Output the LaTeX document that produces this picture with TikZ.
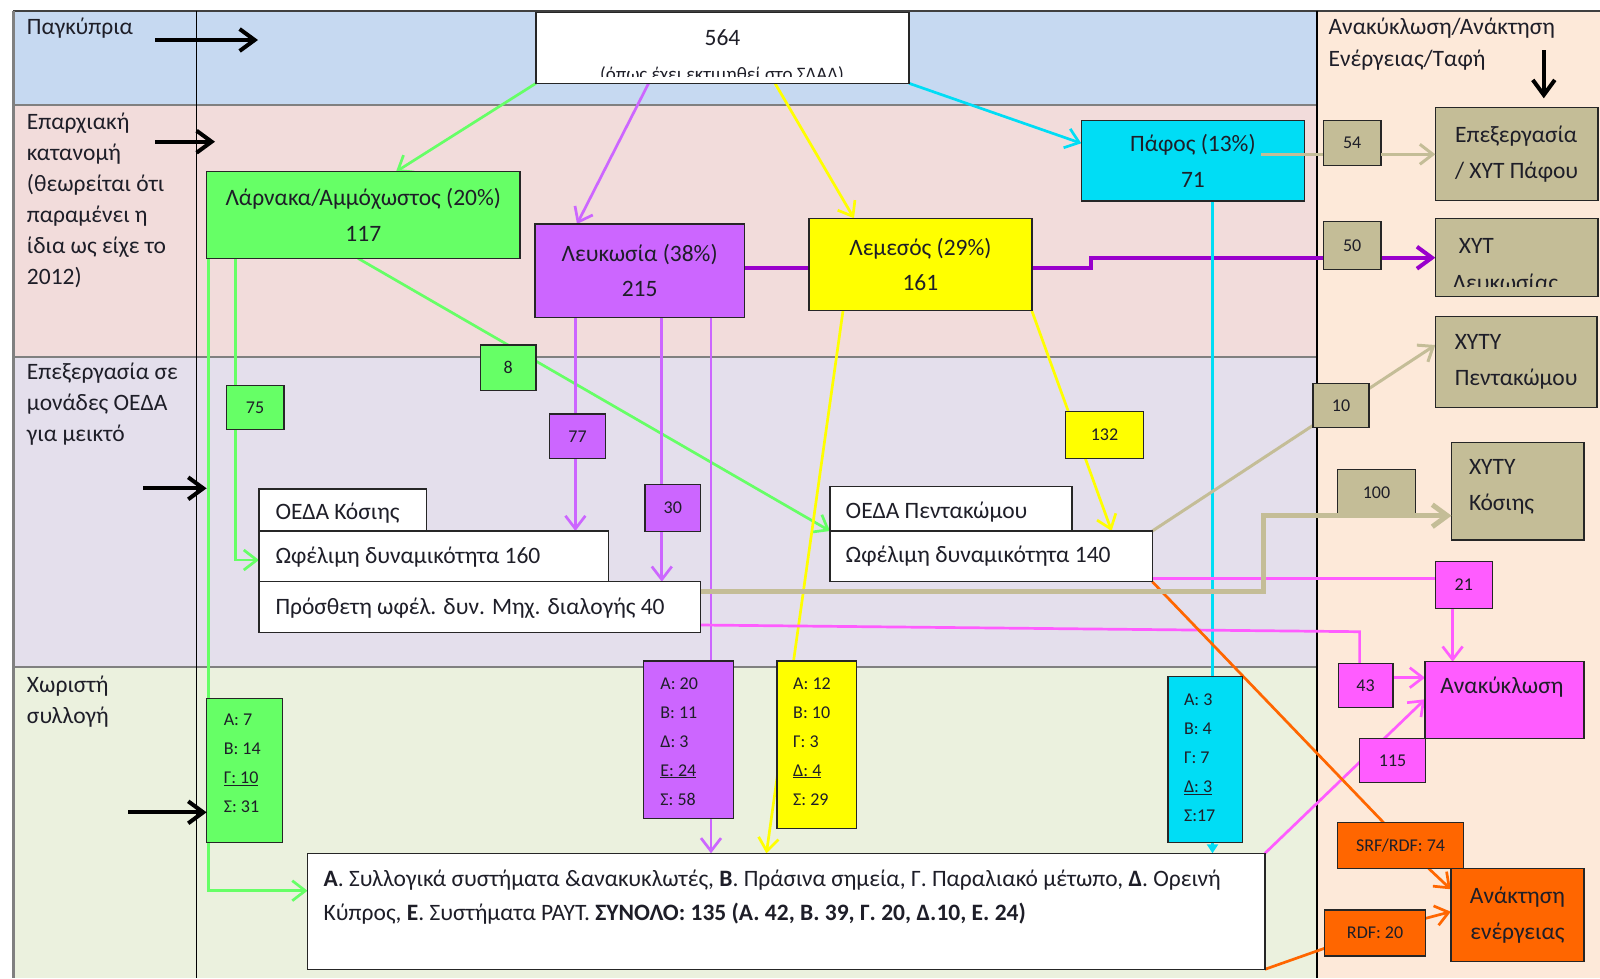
\documentclass[tikz,border=0pt]{standalone}
\usepackage{fontspec}
\setmainfont{Carlito}
\usetikzlibrary{arrows.meta}
\pgfdeclarelayer{bands}
\pgfdeclarelayer{conns}
\pgfsetlayers{bands,conns,main}
\definecolor{bandblue}{HTML}{C6D9F1}
\definecolor{bandpink}{HTML}{F2DCDB}
\definecolor{bandlav}{HTML}{E4DFEC}
\definecolor{bandgreen}{HTML}{EBF1DE}
\definecolor{bandpeach}{HTML}{FDE9D9}
\definecolor{cgreen}{HTML}{66FF66}
\definecolor{cpurple}{HTML}{CC66FF}
\definecolor{cdpurple}{HTML}{9900CC}
\definecolor{cyellow}{HTML}{FFFF00}
\definecolor{ccyan}{HTML}{00DDF5}
\definecolor{ctan}{HTML}{C4BD97}
\definecolor{cpink}{HTML}{FF5CFF}
\definecolor{corange}{HTML}{FF6600}
\definecolor{txt}{HTML}{1E1E28}
\definecolor{frame}{HTML}{262626}
\newcommand\fz[2]{\fontsize{#1}{#2}\selectfont}
\newcommand\bx[7]{\node[#6, anchor=north west, minimum width={#4-#2}, minimum height={#5-#3}] (#1) at (#2,#3) {#7};}
\begin{document}
\begin{tikzpicture}[x=1pt,y=-1pt,
  every node/.style={inner sep=0pt, outer sep=0pt, text=txt},
  bxs/.style={draw=frame, line width=1.4pt, fill=white},
  twol/.style={bxs, font=\fz{23.5}{35.6}, align=center},
  nbox/.style={bxs, font=\fz{18}{29}},
  lbl/.style={font=\fz{23.5}{31}, align=left, anchor=west},
  stk/.style={font=\fz{18}{29}, align=left, anchor=west},
  arr/.style={-{Straight Barb[length=13pt,width=20pt]}},
  arrbig/.style={-{Straight Barb[length=15pt,width=22pt]}},
  gl/.style={draw=cgreen, line width=2.7pt},
  pl/.style={draw=cpurple, line width=2.7pt},
  dpl/.style={draw=cdpurple, line width=4pt},
  yl/.style={draw=cyellow, line width=2.7pt},
  cl/.style={draw=ccyan, line width=2.7pt},
  tl/.style={draw=ctan, line width=3pt},
  tthick/.style={draw=ctan, line width=5pt},
  pkl/.style={draw=cpink, line width=2.7pt},
  ol/.style={draw=corange, line width=2.7pt},
  blk/.style={draw=black, line width=4pt, -{Straight Barb[length=15pt,width=22pt]}}
]
\useasboundingbox (0,0) rectangle (1600,978);
\begin{pgfonlayer}{bands}
  \fill[white] (0,0) rectangle (1600,978);
  \fill[bandblue] (13,10.7) rectangle (1316.5,105);
  \fill[bandpink] (13,105) rectangle (1316.5,356.7);
  \fill[bandlav] (13,356.7) rectangle (1316.5,667.3);
  \fill[bandgreen] (13,667.3) rectangle (1316.5,978);
  \fill[bandpeach] (1316.5,10.7) rectangle (1600,978);
  \draw[black!50, line width=2pt] (13,105) -- (1316.5,105);
  \draw[black!50, line width=2pt] (13,356.7) -- (1316.5,356.7);
  \draw[black!50, line width=2pt] (13,667.3) -- (1316.5,667.3);
  \draw[black!75, line width=2pt] (13,10.7) -- (1600,10.7);
  \draw[black!50, line width=3pt] (13,10.7) -- (13,978);
  \draw[black, line width=1.5pt] (196.3,10.7) -- (196.3,978);
  \draw[black, line width=2pt] (1316.5,10.7) -- (1316.5,978);
\end{pgfonlayer}

% labels
\node[lbl] (lab1) at (27,28.3) {Παγκύπρια};
\node[lbl] (lab2) at (27,200.5) {Επαρχιακή\\κατανομή\\(θεωρείται ότι\\παραμένει η\\ίδια ως είχε το\\2012)};
\node[lbl] (lab3) at (27,404.2) {Επεξεργασία σε\\μονάδες ΟΕΔΑ\\για μεικτό};
\node[lbl] (lab4) at (27,701.7) {Χωριστή\\συλλογή};
\node[lbl, font=\fz{23.5}{31.7}] (lab5) at (1328.6,44.2) {Ανακύκλωση/Ανάκτηση\\Ενέργειας/Ταφή};

% top total
\bx{tot}{536}{12.7}{909}{83.3}{bxs}{}
\node[font=\fz{23.5}{28}] (tott) at (722.5,37.7) {564};
\begin{scope}
  \clip (537,14) rectangle (908,76);
  \node[font=\fz{19}{24}, anchor=base] (tots) at (722,80) {(όπως έχει εκτιμηθεί στο ΣΔΑΔ)};
\end{scope}

% provinces
\bx{lar}{206.6}{171.7}{520}{258.3}{twol,fill=cgreen}{Λάρνακα/Αμμόχωστος (20\%)\\117}
\bx{lef}{535}{224}{744.3}{317.3}{twol,fill=cpurple}{Λευκωσία (38\%)\\215}
\bx{lem}{809}{218.3}{1031.8}{310.7}{twol,fill=cyellow}{Λεμεσός (29\%)\\161}
\bx{paf}{1081.3}{120.7}{1304.5}{201}{twol,fill=ccyan}{Πάφος (13\%)\\71}

% right column
\bx{t54}{1323.4}{120.7}{1381}{165.7}{nbox,fill=ctan}{54}
\bx{epx}{1435.3}{107.3}{1598}{200.7}{twol,fill=ctan,align=left}{Επεξεργασία\\/ ΧΥΤ Πάφου}
\bx{t50}{1323.4}{221.7}{1381}{269.3}{nbox,fill=ctan}{50}
\bx{xl}{1435.3}{218.3}{1598}{296.7}{bxs,fill=ctan}{}
\begin{scope}
  \clip (1436,219) rectangle (1597,286.5);
  \node[lbl, anchor=base west] (xlt1) at (1458.8,253.5) {ΧΥΤ};
  \node[lbl, anchor=base west] (xlt2) at (1452.6,290) {Λευκωσίας};
\end{scope}
\bx{xp}{1435.3}{316.7}{1597}{407.3}{twol,fill=ctan,align=left}{ΧΥΤΥ\\Πεντακώμου}
\bx{t10}{1313}{383.3}{1369}{427.7}{nbox,fill=ctan}{10}
\bx{t100}{1337.2}{469.3}{1415.7}{515.7}{nbox,fill=ctan}{100}
\bx{xk}{1451.5}{442.7}{1584}{540}{bxs,fill=ctan}{}
\node[lbl, font=\fz{23.5}{36.7}] (xkt) at (1469,486.7) {ΧΥΤΥ\\Κόσιης};
\bx{p21}{1435.3}{561.7}{1492.2}{608.3}{nbox,fill=cpink}{21}
\bx{rec}{1425}{661.7}{1584}{738.3}{bxs,fill=cpink}{}
\node[font=\fz{23.5}{28}] (rect) at (1501.8,687.3) {Ανακύκλωση};
\bx{p43}{1338.2}{663.3}{1393}{707.3}{nbox,fill=cpink}{43}
\bx{p115}{1359.6}{738.3}{1425.7}{782.7}{nbox,fill=cpink}{115}
\bx{ank}{1450.8}{868.3}{1584}{961.7}{twol,fill=corange}{Ανάκτηση\\ενέργειας}
\bx{srf}{1337.5}{822.7}{1463.6}{868.3}{nbox,fill=corange}{SRF/RDF: 74}
\bx{rdf}{1324.5}{910}{1425.7}{956}{nbox,fill=corange}{RDF: 20}

% flow labels
\bx{g8}{480.4}{345}{536}{390.7}{nbox,fill=cgreen}{8}
\bx{g75}{226.2}{385.7}{284}{429.3}{nbox,fill=cgreen}{75}
\bx{p77}{549.3}{414}{605.7}{458.7}{nbox,fill=cpurple}{77}
\bx{p30}{645}{484.3}{700.7}{531.7}{nbox,fill=cpurple}{30}
\bx{y132}{1065.2}{411.3}{1143.7}{458.3}{nbox,fill=cyellow}{132}

% OEDA units
\bx{kt}{259}{489}{426.3}{531}{bxs}{}
\node[lbl] (ktt) at (275.5,513) {ΟΕΔΑ Κόσιης};
\bx{w160}{259}{531}{608.6}{581.7}{bxs}{}
\node[lbl] (w160t) at (275.5,557.5) {Ωφέλιμη δυναμικότητα 160};
\bx{add}{259}{581.7}{700.7}{632.7}{bxs}{}
\node[lbl] (addt) at (275.5,608) {Πρόσθετη ωφέλ. δυν. Μηχ. διαλογής 40};
\bx{pt}{830}{486.7}{1071.8}{531}{bxs}{}
\node[lbl] (ptt) at (845.7,512) {ΟΕΔΑ Πεντακώμου};
\bx{w140}{830}{531}{1152.3}{581.7}{bxs}{}
\node[lbl] (w140t) at (845.7,556.5) {Ωφέλιμη δυναμικότητα 140};

% separate collection
\bx{gb}{206.6}{698.3}{282.4}{842.3}{bxs,fill=cgreen}{}
\node[stk] (gbt) at (223.8,763.7) {Α: 7\\Β: 14\\\underline{Γ: 10}\\Σ: 31};
\bx{pb}{643.2}{661}{733.2}{818.3}{bxs,fill=cpurple}{}
\node[stk] (pbt) at (660.4,741.3) {Α: 20\\Β: 11\\Δ: 3\\\underline{Ε: 24}\\Σ: 58};
\bx{yb}{777}{661}{856.4}{828.3}{bxs,fill=cyellow}{}
\node[stk] (ybt) at (793.2,741.3) {Α: 12\\Β: 10\\Γ: 3\\\underline{Δ: 4}\\Σ: 29};
\bx{cb}{1167.8}{676.7}{1242.5}{842.3}{bxs,fill=ccyan}{}
\node[stk] (cbt) at (1184,757.9) {Α: 3\\Β: 4\\Γ: 7\\\underline{Δ: 3}\\Σ:17};
\bx{bot}{307.5}{853.3}{1264.9}{969.3}{bxs}{}
\node[lbl, font=\fz{23.5}{34}] (bott) at (323.7,897) {\textbf{Α}. Συλλογικά συστήματα \&ανακυκλωτές, \textbf{Β}. Πράσινα σημεία, Γ. Παραλιακό μέτωπο, \textbf{Δ}. Ορεινή\\Κύπρος, \textbf{Ε}. Συστήματα ΡΑΥΤ. \textbf{ΣΥΝΟΛΟ: 135 (Α. 42, Β. 39, Γ. 20, Δ.10, Ε. 24)}};

% connectors (behind nodes)
\begin{pgfonlayer}{conns}
  \draw[gl,arr] (tot.south west) -- (396,0 |- lar.north);
  \draw[pl,arr] (648.6,0 |- tot.south) -- (577,0 |- lef.north);
  \draw[yl,arr] (775,0 |- tot.south) -- (854,0 |- lem.north);
  \draw[cl,arr] (tot.south east) -- (0,143.3 -| paf.west);
  \draw[gl,arr] (358,0 |- lar.south) -- (w140.north west);
  \draw[gl,arr] (235.2,0 |- lar.south) |- (0,560 -| w160.west);
  \draw[gl,arr] (208.3,0 |- lar.south) |- (0,890.7 -| bot.west);
  \draw[dpl,arrbig] (lef.east |- 0,267.7) -- (1091,267.7) -- (1091,257.7) -- (xl.west |- 0,257.7);
  \draw[pl,arr] (575.4,0 |- lef.south) -- (575.4,0 |- w160.north);
  \draw[pl,arr] (661.8,0 |- lef.south) -- (661.8,0 |- add.north);
  \draw[pl,arr] (711,0 |- lef.south) -- (711,0 |- bot.north);
  \draw[yl,arr] (843,0 |- lem.south) -- (766.4,0 |- bot.north);
  \draw[yl,arr] (lem.south east) -- (1111.6,0 |- w140.north);
  \draw[cl] (1212.5,0 |- paf.south) -- (1212.5,0 |- cb.north);
  \draw[cl,-{Triangle[length=9pt,width=11pt]}] (1212.5,0 |- cb.south) -- (1212.5,0 |- bot.north);
  \draw[tl,arr] (w140.north east) -- (xp.west |- 0,345);
  \draw[pkl] (0,578.3 -| w140.east) -- (0,578.3 -| p21.west);
  \draw[pkl,arr] (1452.6,0 |- p21.south) -- (1452.6,0 |- rec.north);
  \draw[pkl] (add.east |- 0,625) -- (1359.6,631.7) -- (1359.6,0 |- p43.north);
  \draw[pkl,arr] (p43.east |- 0,677.7) -- (rec.west |- 0,677.7);
  \draw[pkl,arr] (bot.north east) -- (rec.west |- 0,699.3);
  \draw[ol] (w140.south east) -- (1383.7,0 |- srf.north);
  \draw[ol,arr] (1428.5,0 |- srf.south) -- (ank.west |- 0,889.3);
  \draw[ol] (bot.south east) -- (rdf.west |- 0,948.3);
  \draw[ol,arr] (rdf.east |- 0,918.3) -- (ank.west |- 0,911.7);
\end{pgfonlayer}

% connectors drawn on top
\coordinate (tanst) at (1261.4,154.3);
\draw[tl] (tanst) -- (t54.west |- tanst);
\draw[tl,arr] (t54.east |- tanst) -- (epx.west |- tanst);
\draw[tthick,arrbig] (add.east |- 0,591.7) -- (1263.2,591.7) -- (1263.2,515.7) -- (xk.west |- 0,515.7);

% black level arrows
\coordinate (a1s) at (155,40);   \coordinate (a1e) at (258,40);
\coordinate (a2s) at (155,141.7); \coordinate (a2e) at (215,141.7);
\coordinate (a3s) at (143,488.3); \coordinate (a3e) at (206.6,488.3);
\coordinate (a4s) at (128,812.3);
\coordinate (a5s) at (1543.8,50); \coordinate (a5e) at (1543.8,98.3);
\draw[blk] (a1s) -- (a1e);
\draw[blk] (a2s) -- (a2e);
\draw[blk] (a3s) -- (a3e);
\draw[blk] (a4s) -- (gb.west |- a4s);
\draw[blk] (a5s) -- (a5e);
\end{tikzpicture}
\end{document}
